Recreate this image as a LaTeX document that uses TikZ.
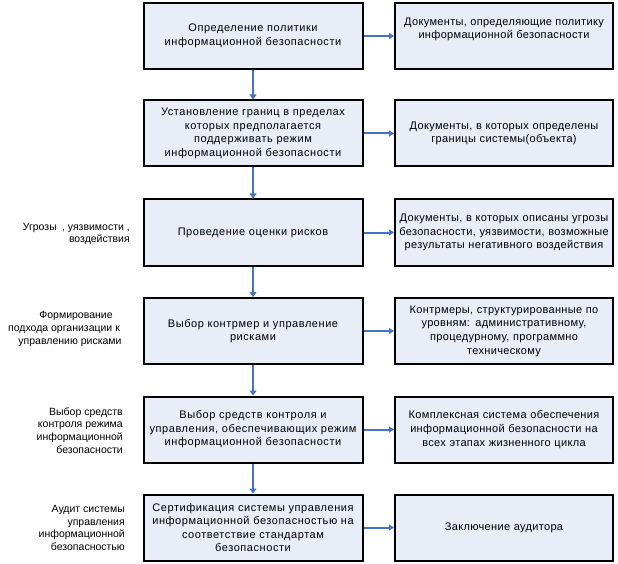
\documentclass[tikz,border=0pt]{standalone}
\usepackage{fontspec}
\setmainfont{Liberation Sans}
\usetikzlibrary{arrows.meta}
\definecolor{boxfill}{HTML}{E8EDF7}
\definecolor{arrowblue}{HTML}{4472C4}
\tikzset{
  mainbox/.style={draw=black, line width=2pt, fill=boxfill, minimum width=219pt, minimum height=66pt, inner sep=2pt, align=center, text width=214pt, font=\fontsize{11}{13.6}\selectfont\addfontfeatures{LetterSpace=5}},
  docbox/.style={draw=black, line width=2pt, fill=boxfill, minimum width=218pt, minimum height=66pt, inner sep=2pt, align=center, text width=214pt, font=\fontsize{11}{13.6}\selectfont\addfontfeatures{LetterSpace=3}},
  doctext/.style={inner sep=0pt, align=center, font=\fontsize{11}{12.6}\selectfont\addfontfeatures{LetterSpace=3}},
  sidelabel/.style={align=right, inner sep=0pt, font=\fontsize{10.5}{12.8}\selectfont},
  varrow/.style={draw=arrowblue, line width=2.6pt, -{Triangle[length=5pt,width=7pt]}},
  harrow/.style={draw=arrowblue, line width=2pt, -{Triangle[length=5pt,width=6pt]}}
}
\begin{document}
\begin{tikzpicture}[x=1pt,y=-1pt]
\useasboundingbox (0,0) rectangle (618,564);
\node[mainbox] (m1) at (253,36) {Определение политики\\информационной безопасности};
\node[mainbox] (m2) at (253,133.5) {Установление границ в пределах\\которых предполагается\\поддерживать режим\\информационной безопасности};
\node[mainbox] (m3) at (253,232.5) {Проведение оценки рисков};
\node[mainbox] (m4) at (253,331) {Выбор контрмер и управление\\рисками};
\node[mainbox] (m5) at (253,429.5) {Выбор средств контроля и\\управления, обеспечивающих режим\\информационной безопасности};
\node[mainbox] (m6) at (253,527.5) {Сертификация системы управления\\информационной безопасностью на\\соответствие стандартам\\безопасности};

\node[docbox] (d1) at (504,36) {};
\node[doctext] (d1t) at (504,29.5) {Документы, определяющие политику\\информационной безопасности};
\node[docbox] (d2) at (504,133.5) {Документы, в которых определены\\границы системы(объекта)};
\node[docbox] (d3) at (504,232.5) {Документы, в которых описаны угрозы\\безопасности, уязвимости, возможные\\результаты негативного воздействия};
\node[docbox] (d4) at (504,331) {Контрмеры, структурированные по\\уровням: административному,\\процедурному, программно\\техническому};
\node[docbox] (d5) at (504,429.5) {Комплексная система обеспечения\\информационной безопасности на\\всех этапах жизненного цикла};
\node[docbox] (d6) at (504,527.5) {Заключение аудитора};

\node[sidelabel, anchor=east] (l3) at (130,234) {Угрозы\enspace, уязвимости ,\\воздействия\hspace{6pt}};
\node[sidelabel, align=center, anchor=center] (l4) at (64,329) {\hspace{24pt}Формирование\\подхода организации к\\\hspace{12pt}управлению рисками};
\node[sidelabel, anchor=east] (l5) at (123,430.5) {Выбор средств\\контроля режима\\информационной\hspace{3pt}\\безопасности};
\node[sidelabel, anchor=east] (l6) at (125,528) {Аудит системы\\управления\\информационной\hspace{5pt}\\безопасностью\hspace{5pt}};

\foreach \a/\b in {m1/m2,m2/m3,m3/m4,m4/m5,m5/m6}
  \draw[varrow] (\a.south) -- (\b.north);
\foreach \i in {1,...,6}
  \draw[harrow] (m\i.east) -- (d\i.west);
\end{tikzpicture}
\end{document}
